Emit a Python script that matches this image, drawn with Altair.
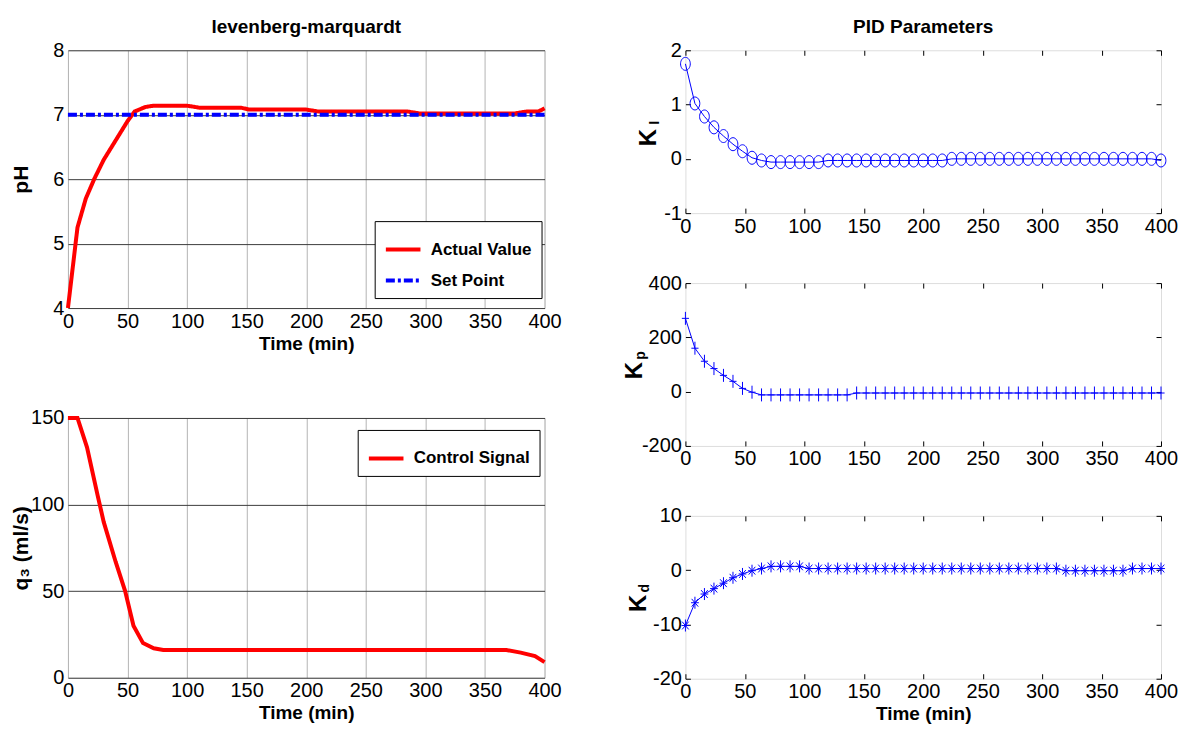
import altair as alt
import pandas as pd

# ---------------- data ----------------
x_ticks = [0, 50, 100, 150, 200, 250, 300, 350, 400]

t_ph = [0, 8, 15, 22, 30, 40, 50, 56, 65, 72, 100, 110, 145, 152, 200, 210, 285, 295, 375, 385, 395, 400]
ph_actual = [4.0, 5.25, 5.7, 6.0, 6.3, 6.6, 6.9, 7.05, 7.12, 7.14, 7.14, 7.11, 7.11, 7.08, 7.08, 7.05, 7.05, 7.02, 7.02, 7.05, 7.05, 7.1]
t_sp = [0, 400]
ph_set = [7, 7]
ph_series = ["Actual Value", "Set Point"]

t_q = [0, 8, 16, 25, 30, 40, 48, 55, 63, 72, 80, 368, 380, 392, 400]
q3 = [150, 150, 133, 105, 90, 67, 50, 30, 20, 17, 16, 16, 14.5, 12.5, 9]
q_series = ["Control Signal"]

t_pid = [0, 8, 16, 24, 32, 40, 48, 56, 64, 72, 80, 88, 96, 104, 112, 120, 128, 136, 144, 152,
         160, 168, 176, 184, 192, 200, 208, 216, 224, 232, 240, 248, 256, 264, 272, 280, 288,
         296, 304, 312, 320, 328, 336, 344, 352, 360, 368, 376, 384, 392, 400]
k_i = [1.75, 1.02, 0.78, 0.58, 0.42, 0.27, 0.14, 0.02, -0.03, -0.06, -0.06, -0.06, -0.06, -0.06, -0.06,
       -0.03, -0.03, -0.03, -0.03, -0.03, -0.03, -0.03, -0.03, -0.03, -0.03, -0.03, -0.03, -0.03,
       0.0, 0.0, 0.0, 0.0, 0.0, 0.0, 0.0, 0.0, 0.0, 0.0, 0.0, 0.0, 0.0, 0.0, 0.0, 0.0, 0.0, 0.0,
       0.0, 0.0, 0.0, 0.0, -0.03]
k_p = [270, 160, 112, 85, 60, 38, 12, -2, -12, -12, -12, -12, -12, -12, -12, -12, -12, -12,
       -5, -5, -5, -5, -5, -5, -5, -5, -5, -5, -5, -5, -5, -5, -5, -5, -5, -5, -5, -5, -5, -5,
       -5, -5, -5, -5, -5, -5, -5, -5, -5, -5, -5]
k_d = [-10.2, -6.0, -4.4, -3.4, -2.4, -1.4, -0.7, -0.1, 0.3, 0.7, 0.7, 0.7, 0.7,
       0.3, 0.3, 0.3, 0.3, 0.3, 0.3, 0.3, 0.3, 0.3, 0.3, 0.3, 0.3, 0.3, 0.3, 0.3, 0.3, 0.3,
       0.3, 0.3, 0.3, 0.3, 0.3, 0.3, 0.3, 0.3, 0.3, 0.3,
       -0.1, -0.1, -0.1, -0.1, -0.1, -0.1, -0.1,
       0.3, 0.3, 0.3, 0.3]

# ---------------- style ----------------
FONT = "Liberation Sans"
RED = "#ff0000"
BLUE = "#0000ff"
LW, LH, LH2 = 477, 258, 260
RW, RH = 476, 163
LABEL_EXPR = "'' + datum.value"

CIRCLE = "M-0.75,0A0.75,1 0 1,1 0.75,0A0.75,1 0 1,1 -0.75,0Z"
PLUS = "M-0.55,0H0.55M0,-1V1"
STAR = "M-0.65,0H0.65M0,-1V1M-0.55,-0.65L0.55,0.65M-0.55,0.65L0.55,-0.65"


def left_x_axis():
    return alt.Axis(values=x_ticks, title="Time (min)", labelExpr=LABEL_EXPR, grid=True,
                    gridColor="#b4b4b4", gridWidth=1, ticks=False, domain=False,
                    labelFont=FONT, labelFontSize=20, labelPadding=3, labelColor="black",
                    labelFlush=False, titleFont=FONT, titleFontSize=19, titleFontWeight="bold",
                    titlePadding=3, titleColor="black")


def left_y_axis(values, title, h):
    return alt.Axis(values=values, title=title, labelExpr=LABEL_EXPR, grid=True, gridColor="#3c3c3c",
                    gridWidth=1, ticks=False, domain=False, labelFont=FONT, labelFontSize=20,
                    labelPadding=4, labelColor="black", labelFlush=False,
                    titleFont=FONT, titleFontSize=21, titleFontWeight="bold",
                    titleX=-46, titleY=h / 2, titleBaseline="middle", titleAlign="center",
                    titleColor="black")


def legend(x, y):
    return alt.Legend(orient="none", legendX=x, legendY=y, title=None, strokeColor="black",
                      fillColor="white", padding=9, symbolType="stroke",
                      symbolStrokeWidth=4, symbolSize=1200, labelFont=FONT, labelFontSize=17,
                      labelFontWeight="bold", labelColor="black", labelOffset=8, rowPadding=3,
                      symbolOffset=0, labelLimit=300)


# ---- pH chart ----
df_ph = pd.concat([
    pd.DataFrame({"t": t_ph, "v": ph_actual, "s": ph_series[0]}),
    pd.DataFrame({"t": t_sp, "v": ph_set, "s": ph_series[1]}),
])
lg1 = legend(307, 171)
top_left = alt.Chart(df_ph).mark_line(strokeWidth=4).encode(
    x=alt.X("t:Q", scale=alt.Scale(domain=[0, 400], nice=False), axis=left_x_axis()),
    y=alt.Y("v:Q", scale=alt.Scale(domain=[4, 8], nice=False), axis=left_y_axis([4, 5, 6, 7, 8], "pH", LH)),
    color=alt.Color("s:N", scale=alt.Scale(domain=ph_series, range=[RED, BLUE]), legend=lg1),
    strokeDash=alt.StrokeDash("s:N", scale=alt.Scale(domain=ph_series, range=[[1, 0], [9, 3, 3, 3]]), legend=lg1),
).properties(width=LW, height=LH,
             title=alt.TitleParams("levenberg-marquardt", font=FONT, fontSize=19,
                                   fontWeight="bold", color="black", offset=3))

# ---- control signal chart ----
df_q = pd.DataFrame({"t": t_q, "v": q3, "s": q_series[0]})
bottom_left = alt.Chart(df_q).mark_line(strokeWidth=4).encode(
    x=alt.X("t:Q", scale=alt.Scale(domain=[0, 400], nice=False), axis=left_x_axis()),
    y=alt.Y("v:Q", scale=alt.Scale(domain=[0, 150], nice=False), axis=left_y_axis([0, 50, 100, 150], "q₃ (ml/s)", LH2)),
    color=alt.Color("s:N", scale=alt.Scale(domain=q_series, range=[RED]), legend=legend(290, 12)),
).properties(width=LW, height=LH2)


# ---- PID panels ----
def pid_panel(values, domain, yticks, shape, size, sub, kx, show_title, title=None):
    df = pd.DataFrame({"t": t_pid, "v": values})
    xax = alt.Axis(values=x_ticks, title="Time (min)" if show_title else None, labelExpr=LABEL_EXPR,
                   grid=True, gridColor="black", gridWidth=1, gridDash=[5, RH - 10, 5, 2000],
                   ticks=False, domain=False, labelFont=FONT, labelFontSize=20, labelPadding=3,
                   labelColor="black", labelFlush=False, titleFont=FONT, titleFontSize=19,
                   titleFontWeight="bold", titlePadding=3, titleColor="black")
    yax = alt.Axis(values=yticks, title=None, labelExpr=LABEL_EXPR, grid=True, gridColor="black",
                   gridWidth=1, gridDash=[5, RW - 10, 5, 2000], ticks=False, domain=False,
                   labelFont=FONT, labelFontSize=20, labelPadding=4, labelColor="black",
                   labelFlush=False)
    x = alt.X("t:Q", scale=alt.Scale(domain=[0, 400], nice=False), axis=xax)
    y = alt.Y("v:Q", scale=alt.Scale(domain=domain, nice=False), axis=yax)
    base = alt.Chart(df)
    line = base.mark_line(color=BLUE, strokeWidth=1).encode(x=x, y=y)
    pts = base.mark_point(shape=shape, size=size, filled=False, color=BLUE, strokeWidth=1,
                          opacity=1).encode(x=x, y=y)
    lab = alt.Chart(pd.DataFrame({"k": ["K"], "s": [sub]}))
    ktxt = lab.mark_text(font=FONT, fontSize=24, fontWeight="bold", angle=270, align="center",
                         baseline="middle", color="black").encode(
        x=alt.value(kx), y=alt.value(RH / 2 + 6), text="k:N")
    stxt = lab.mark_text(font=FONT, fontSize=14, fontWeight="bold", angle=270, align="center",
                         baseline="middle", color="black").encode(
        x=alt.value(kx + 6), y=alt.value(RH / 2 - 9), text="s:N")
    ch = alt.layer(line, pts, ktxt, stxt).properties(width=RW, height=RH)
    if title:
        ch = ch.properties(title=alt.TitleParams(title, font=FONT, fontSize=19, fontWeight="bold",
                                                 color="black", offset=3))
    return ch


p_i = pid_panel(k_i, [-1, 2], [-1, 0, 1, 2], CIRCLE, 169, "I", -36, False, "PID Parameters")
p_p = pid_panel(k_p, [-200, 400], [-200, 0, 200, 400], PLUS, 169, "p", -50, False)
p_d = pid_panel(k_d, [-20, 10], [-20, -10, 0, 10], STAR, 144, "d", -46, True)

left = alt.vconcat(top_left, bottom_left, spacing=110, bounds="flush").resolve_scale(
    color="independent", strokeDash="independent")
right = alt.vconcat(p_i, p_p, p_d, spacing=70, bounds="flush")

chart = alt.hconcat(left, right, spacing=60).resolve_scale(
    color="independent", strokeDash="independent"
).properties(
    padding={"left": 2, "top": 9, "right": 0, "bottom": 2}
).configure_view(stroke="black", strokeWidth=2).configure(background="white")

chart.save("out.html", embed_options={"renderer": "svg", "actions": False})
